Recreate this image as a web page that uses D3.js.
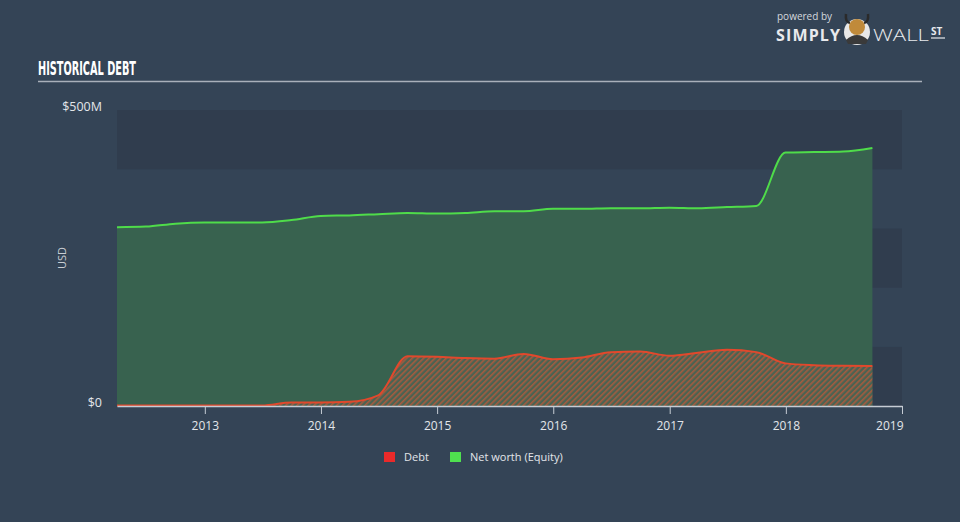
<!DOCTYPE html>
<html><head><meta charset="utf-8">
<script src="https://cdn.jsdelivr.net/npm/d3@7"></script>
<style>
html,body{margin:0;padding:0;background:#344456;}
svg{display:block;}
</style></head>
<body>
<svg id="chart" width="960" height="522"></svg>
<script>
const dates = ["2012-03-31","2012-06-30","2012-09-30","2012-12-31","2013-03-31","2013-06-30","2013-09-30","2013-12-31","2014-03-31","2014-06-30","2014-09-30","2014-12-31","2015-03-31","2015-06-30","2015-09-30","2015-12-31","2016-03-31","2016-06-30","2016-09-30","2016-12-31","2017-03-31","2017-06-30","2017-09-30","2017-12-31","2018-03-31","2018-06-30","2018-09-30"];
const debt = [1,1,1,1,1,1,6,6,7,18,84,83,81,80,88,79,82,91,92,85,90,95,91,72,69,68,67.5];
const equity = [302,303,308,310,310,310,314,321,322,324,326,325,326,329,329,333,333,334,334,335,334,336,338,428,429,430,436];
const yTicks = [0,500];
const yTickLabels = ["$0","$500M"];
const xTickYears = [2013,2014,2015,2016,2017,2018,2019];

const parse = d3.timeParse("%Y-%m-%d");
const data = dates.map((d,i)=>({date:parse(d), debt:debt[i], equity:equity[i]}));

const svg = d3.select("#chart");
const L=117, R=902, T=110, B=406;
const x = d3.scaleTime().domain([parse("2012-03-31"), new Date(2019,0,1)]).range([L,R]);
const y = d3.scaleLinear().domain([0,500]).range([B,T]);

// defs: hatch pattern
const defs = svg.append("defs");
const pat = defs.append("pattern").attr("id","hatch").attr("patternUnits","userSpaceOnUse")
  .attr("width",4).attr("height",4).attr("patternTransform","rotate(45)");
pat.append("rect").attr("width",4).attr("height",4).attr("fill","#4a6352");
pat.append("rect").attr("width",1.6).attr("height",4).attr("fill","#a65b3f");

// bands
const bands = [[0,100,true],[100,200,false],[200,300,true],[300,400,false],[400,500,true]];
svg.append("g").selectAll("rect").data(bands).join("rect")
  .attr("x",L).attr("width",R-L)
  .attr("y",d=>y(d[1])).attr("height",d=>y(d[0])-y(d[1]))
  .attr("fill",d=>d[2]?"#303d4e":"#344456");

// title
svg.append("text").attr("x",38).attr("y",75).text("HISTORICAL DEBT")
  .attr("fill","#ffffff").attr("font-family","'DejaVu Sans Condensed','Liberation Sans Narrow',sans-serif")
  .attr("font-weight","bold").attr("font-size",19)
  .attr("textLength",98).attr("lengthAdjust","spacingAndGlyphs");
svg.append("line").attr("x1",38).attr("x2",922).attr("y1",81.5).attr("y2",81.5)
  .attr("stroke","#a9b0ba").attr("stroke-width",1.5);

// logo
const lg = svg.append("g").attr("font-family","'Open Sans',sans-serif");
lg.append("text").attr("x",777).attr("y",20).text("powered by").attr("fill","#d5d9de").attr("font-size",10);
lg.append("text").attr("x",776).attr("y",41).text("SIMPLY").attr("fill","#e8eaed").attr("font-size",16).attr("font-weight","bold")
  .attr("textLength",64).attr("lengthAdjust","spacing");
lg.append("circle").attr("cx",857).attr("cy",32).attr("r",13).attr("fill","#e8e8e8");
lg.append("path").attr("d","M846,14 Q845,22 850,23 M868,14 Q869,22 864,23").attr("stroke","#2a2a2a").attr("stroke-width",2.5).attr("fill","none");
lg.append("circle").attr("cx",857).attr("cy",27).attr("r",8).attr("fill","#c08a3a");
lg.append("path").attr("d","M846,40 Q857,30 868,40 L866,44 L848,44 Z").attr("fill","#3a3a3a");
lg.append("text").attr("x",873).attr("y",41).text("WALL").attr("fill","#e8eaed").attr("font-size",17).attr("font-weight","300")
  .attr("textLength",56).attr("lengthAdjust","spacingAndGlyphs");
lg.append("text").attr("x",931).attr("y",35).text("ST").attr("fill","#e8eaed").attr("font-size",10).attr("font-weight","bold");
lg.append("line").attr("x1",931).attr("x2",945).attr("y1",38).attr("y2",38).attr("stroke","#e8eaed").attr("stroke-width",1.2);

// areas
const curve = d3.curveMonotoneX;
const eqArea = d3.area().x(d=>x(d.date)).y0(y(0)).y1(d=>y(d.equity)).curve(curve);
const eqLine = d3.line().x(d=>x(d.date)).y(d=>y(d.equity)).curve(curve);
const dArea = d3.area().x(d=>x(d.date)).y0(y(0)).y1(d=>y(d.debt)).curve(curve);
const dLine = d3.line().x(d=>x(d.date)).y(d=>y(d.debt)).curve(curve);

svg.append("path").datum(data).attr("d",eqArea).attr("fill","#38624f");
svg.append("path").datum(data).attr("d",dArea).attr("fill","url(#hatch)");
svg.append("path").datum(data).attr("d",eqLine).attr("fill","none").attr("stroke","#4fdc4a").attr("stroke-width",2);
svg.append("path").datum(data).attr("d",dLine).attr("fill","none").attr("stroke","#e2482c").attr("stroke-width",2);

// x axis
const xg = svg.append("g").attr("transform",`translate(0,${B})`);
const xAxis = d3.axisBottom(x).tickValues(xTickYears.map(v=>new Date(v,0,1)))
  .tickFormat(d3.timeFormat("%Y")).tickSize(8).tickSizeOuter(0);
xg.call(xAxis);
xg.select(".domain").attr("stroke","#c5ccd4").attr("stroke-width",1.5);
xg.selectAll(".tick line").attr("stroke","#c5ccd4");
xg.selectAll(".tick text").attr("fill","#e3e6ea").attr("font-size",12)
  .attr("font-family","'Open Sans',sans-serif").attr("dy","1.05em");
xg.selectAll(".tick").filter((d,i)=>i===xTickYears.length-1).select("text").attr("text-anchor","end").attr("dx","1");

// y labels
const yg = svg.append("g");
yg.selectAll("text").data(yTicks).join("text")
  .attr("x",102).attr("y",d=>y(d)).attr("dy",d=>d===0?"0.1em":"0.05em")
  .attr("text-anchor","end").text((d,i)=>yTickLabels[i])
  .attr("fill","#e3e6ea").attr("font-size",12.5).attr("font-family","'Open Sans',sans-serif");
svg.append("text").attr("transform","translate(66,258) rotate(-90)").attr("text-anchor","middle")
  .text("USD").attr("fill","#c9ced4").attr("font-size",11).attr("font-family","'Open Sans',sans-serif");

// legend
const legend = [{name:"Debt",color:"#ea2a2a",x:384},{name:"Net worth (Equity)",color:"#4fe04f",x:450}];
const lgd = svg.append("g").selectAll("g").data(legend).join("g").attr("transform",d=>`translate(${d.x},452)`);
lgd.append("rect").attr("width",11).attr("height",10).attr("fill",d=>d.color);
lgd.append("text").attr("x",20).attr("y",9).text(d=>d.name).attr("fill","#e3e6ea")
  .attr("font-size",11).attr("font-family","'Open Sans',sans-serif");
</script>
</body></html>
